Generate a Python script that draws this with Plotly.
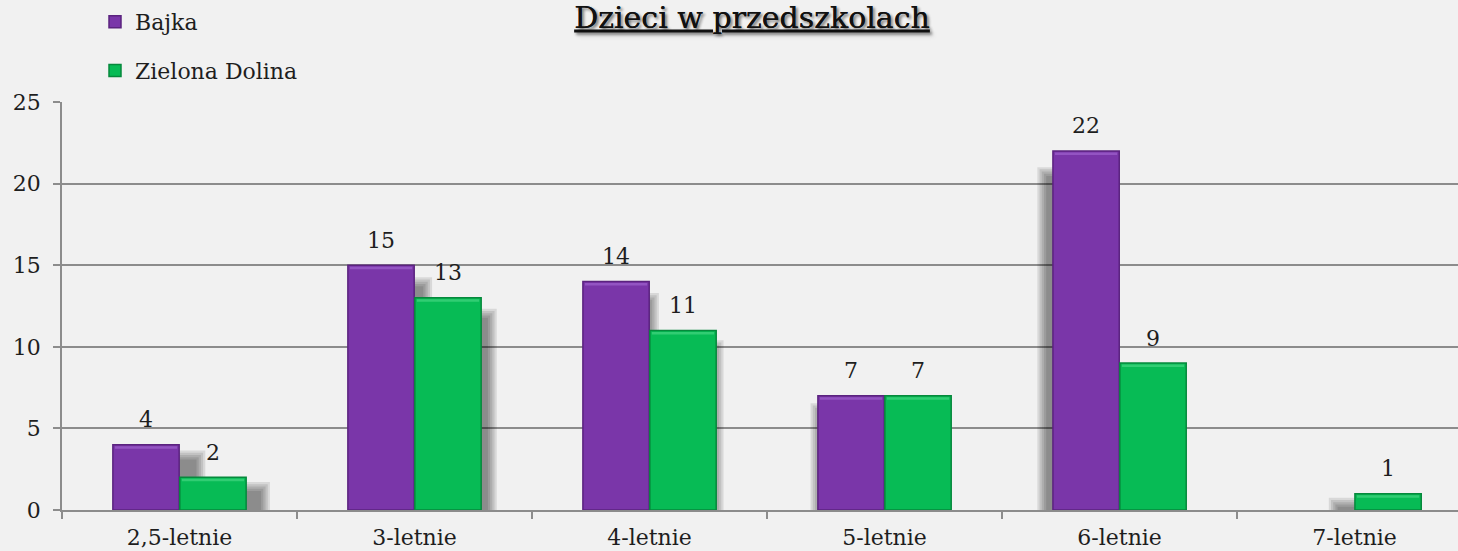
import plotly.graph_objects as go

categories = ["2,5-letnie", "3-letnie", "4-letnie", "5-letnie", "6-letnie", "7-letnie"]
bajka = [4, 15, 14, 7, 22, None]
zielona = [2, 13, 11, 7, 9, 1]
series_names = ["Bajka", "Zielona Dolina"]
y_ticks = [0, 5, 10, 15, 20, 25]

FONT = "DejaVu Serif"
fills = ["#7A36A9", "#07BB55"]
borders = ["#5B237F", "#06893C"]
highlights = ["#9A5CC8", "#3CD27A"]

BARGAP = 0.43
GROUPGAP = 0.01
slot = (1 - BARGAP) / 2
bw = slot * (1 - GROUPGAP)

fig = go.Figure()
for k, (name, vals) in enumerate(zip(series_names, [bajka, zielona])):
    fig.add_trace(go.Bar(
        x=categories, y=vals, name=name, legendgroup=name,
        marker=dict(color=fills[k], line=dict(color=borders[k], width=1.5)),
        hoverinfo="x+y+name",
    ))

px_x = 235.0
px_y = 408.0 / 25.0
shapes = []
annotations = []
for k, vals in enumerate([bajka, zielona]):
    for i, v in enumerate(vals):
        if v is None:
            continue
        xc = i + (k - 0.5) * slot
        annotations.append(dict(x=xc, y=v, xref="x", yref="y", text=str(v),
                                showarrow=False, yshift=25, yanchor="middle",
                                font=dict(family=FONT, size=22, color="#1e1e1e")))
        # soft perspective shadow
        off = 0.035 * (2.5 - xc)
        top = v - (8 + 0.035 * v * px_y) / px_y
        for j in range(5):
            grow = (2 - j) * 2.2
            shapes.append(dict(
                type="rect", xref="x", yref="y", layer="between",
                x0=xc - bw / 2 + off - grow / px_x, x1=xc + bw / 2 + off + grow / px_x,
                y0=0, y1=max(top + grow / px_y, 0.05),
                fillcolor="rgba(0,0,0,0.1)", line=dict(width=0),
            ))
        # bevel highlight near the top edge
        shapes.append(dict(
            type="rect", xref="x", yref="y", layer="above",
            x0=xc - bw / 2 + 2 / px_x, x1=xc + bw / 2 - 2 / px_x,
            y0=v - 4 / px_y, y1=v - 1.5 / px_y,
            fillcolor=highlights[k], line=dict(width=0), opacity=0.8,
        ))

fig.update_layout(
    width=1458, height=551,
    margin=dict(l=62, r=0, t=102, b=41),
    paper_bgcolor="#f1f1f1", plot_bgcolor="#f1f1f1",
    barmode="group", bargap=BARGAP, bargroupgap=GROUPGAP,
    font=dict(family=FONT, size=22, color="#1e1e1e"),
    title=dict(text="<u>Dzieci w przedszkolach</u>", x=(752 - 62) / 1396, xanchor="center",
               xref="paper", y=1 - 17 / 551, yanchor="middle", yref="container",
               font=dict(family=FONT, size=30, color="#111111",
                         shadow="2px 2px 3px rgba(0,0,0,0.3)")),
    legend=dict(x=(95 - 62) / 1396, xanchor="left", y=1 + (102 - 1) / 408, yanchor="top",
                orientation="v", tracegroupgap=17, itemwidth=30,
                font=dict(family=FONT, size=22, color="#1e1e1e"),
                bgcolor="rgba(0,0,0,0)"),
    shapes=shapes,
    annotations=annotations,
    showlegend=True,
)
fig.update_xaxes(
    range=[-0.5, 5.44], type="category", showline=True, linecolor="#8c8c8c", linewidth=1.5,
    ticks="outside", tickson="boundaries", ticklen=7, tickcolor="#8c8c8c", tickwidth=1.5,
    showgrid=False, tickfont=dict(family=FONT, size=22, color="#1e1e1e"), ticklabelstandoff=7,
)
fig.update_yaxes(
    range=[0, 25], tickvals=y_ticks, showline=True, linecolor="#8c8c8c", linewidth=1.5,
    ticks="outside", ticklen=7, tickcolor="#8c8c8c", tickwidth=1.5,
    showgrid=True, gridcolor="#8c8c8c", gridwidth=1.5, zeroline=False,
    tickfont=dict(family=FONT, size=22, color="#1e1e1e"), ticklabelstandoff=8,
)

fig.write_html("out.html", config={"displayModeBar": False},
               post_script="document.body.style.margin='0';document.body.style.background='#f1f1f1';")
